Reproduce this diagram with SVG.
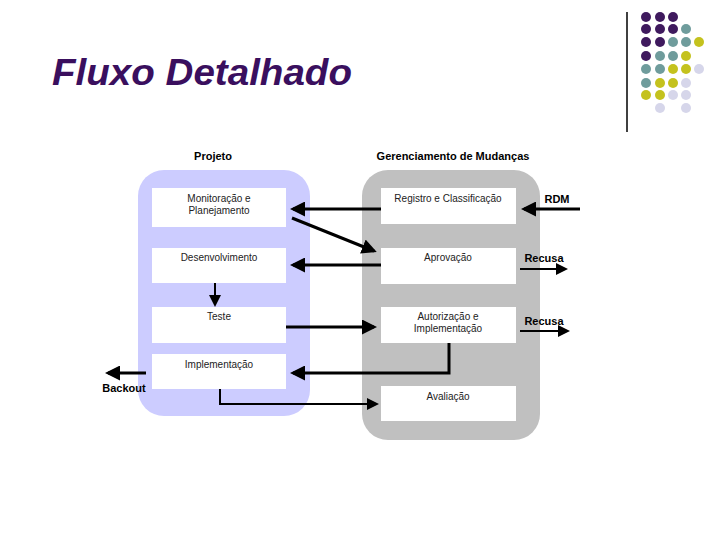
<svg xmlns="http://www.w3.org/2000/svg" width="720" height="540" viewBox="0 0 720 540">
<style>
.b{fill:#fff}
.t{font-family:"Liberation Sans",Arial,sans-serif;font-size:10px;fill:#222;text-anchor:middle}
.h{font-family:"Liberation Sans",Arial,sans-serif;font-size:11px;font-weight:bold;fill:#000;text-anchor:middle}
.c{fill:none;stroke:#000;stroke-width:3}
.c2{fill:none;stroke:#000;stroke-width:2}
.P{fill:#3f1a5e}.T{fill:#6f9c9c}.Y{fill:#c4c21e}.L{fill:#d6d6ea}
</style>
<defs>
<marker id="a" markerWidth="6" markerHeight="6" refX="5" refY="3" orient="auto" markerUnits="strokeWidth"><path d="M0,0 L6,3 L0,6 z" fill="#000"/></marker>
<marker id="s" markerWidth="5" markerHeight="5" refX="4" refY="2.5" orient="auto" markerUnits="strokeWidth"><path d="M0,0 L5,2.5 L0,5 z" fill="#000"/></marker>
</defs>
<rect width="720" height="540" fill="#fff"/>
<text x="52" y="85" font-family="Liberation Sans,Arial,sans-serif" font-size="36" font-style="italic" font-weight="bold" fill="#3a0f5e" textLength="300" lengthAdjust="spacingAndGlyphs">Fluxo Detalhado</text>
<line x1="627" y1="12" x2="627" y2="132" stroke="#000" stroke-width="1.5"/>
<g id="dots">
<circle class="P" cx="646" cy="17" r="5"/><circle class="P" cx="660" cy="17" r="5"/><circle class="P" cx="673" cy="17" r="5"/>
<circle class="P" cx="646" cy="29" r="5"/><circle class="P" cx="660" cy="29" r="5"/><circle class="P" cx="673" cy="29" r="5"/><circle class="T" cx="686" cy="29" r="5"/>
<circle class="P" cx="646" cy="42" r="5"/><circle class="P" cx="660" cy="42" r="5"/><circle class="T" cx="673" cy="42" r="5"/><circle class="T" cx="686" cy="42" r="5"/><circle class="Y" cx="699" cy="42" r="5"/>
<circle class="P" cx="646" cy="56" r="5"/><circle class="T" cx="660" cy="56" r="5"/><circle class="T" cx="673" cy="56" r="5"/><circle class="Y" cx="686" cy="56" r="5"/>
<circle class="T" cx="646" cy="69" r="5"/><circle class="T" cx="660" cy="69" r="5"/><circle class="Y" cx="673" cy="69" r="5"/><circle class="Y" cx="686" cy="69" r="5"/><circle class="L" cx="699" cy="69" r="5"/>
<circle class="T" cx="646" cy="83" r="5"/><circle class="Y" cx="660" cy="83" r="5"/><circle class="Y" cx="673" cy="83" r="5"/><circle class="L" cx="686" cy="83" r="5"/>
<circle class="Y" cx="646" cy="95" r="5"/><circle class="Y" cx="660" cy="95" r="5"/><circle class="L" cx="673" cy="95" r="5"/><circle class="L" cx="686" cy="95" r="5"/>
<circle class="L" cx="660" cy="108" r="5"/><circle class="L" cx="686" cy="108" r="5"/>
</g>
<g id="lanes">
<rect x="138" y="170" width="172" height="246" rx="26" fill="#ccccff"/>
<rect x="362" y="170" width="178" height="270" rx="26" fill="#c0c0c0"/>
<text class="h" x="213" y="160">Projeto</text>
<text class="h" x="453" y="160">Gerenciamento de Mudanças</text>
</g>
<g id="n1"><rect class="b" x="152" y="188" width="134" height="39"/><text class="t" x="219" y="202">Monitoração e</text><text class="t" x="219" y="214">Planejamento</text></g>
<g id="n2"><rect class="b" x="152" y="248" width="134" height="35"/><text class="t" x="219" y="261">Desenvolvimento</text></g>
<g id="n3"><rect class="b" x="152" y="307" width="134" height="36"/><text class="t" x="219" y="320">Teste</text></g>
<g id="n4"><rect class="b" x="152" y="354" width="134" height="35"/><text class="t" x="219" y="368">Implementação</text></g>
<g id="n5"><rect class="b" x="381" y="188" width="135" height="36"/><text class="t" x="448" y="202">Registro e Classificação</text></g>
<g id="n6"><rect class="b" x="381" y="248" width="135" height="36"/><text class="t" x="448" y="261">Aprovação</text></g>
<g id="n7"><rect class="b" x="381" y="307" width="135" height="36"/><text class="t" x="448" y="320">Autorização e</text><text class="t" x="448" y="332">Implementação</text></g>
<g id="n8"><rect class="b" x="381" y="386" width="135" height="35"/><text class="t" x="448" y="400">Avaliação</text></g>
<g id="connectors">
<path class="c" d="M381 209 L293 209" marker-end="url(#s)"/>
<path class="c" d="M292 218 L374 251" marker-end="url(#s)"/>
<path class="c" d="M381 265 L293 265" marker-end="url(#s)"/>
<path class="c2" d="M215 283 L215 305" marker-end="url(#a)"/>
<path class="c" d="M286 327 L374 327" marker-end="url(#s)"/>
<path class="c" d="M449 343 L449 373 L293 373" marker-end="url(#s)"/>
<path class="c2" d="M220 389 L220 404 L377 404" marker-end="url(#a)"/>
<path class="c" d="M580 209 L524 209" marker-end="url(#s)"/>
<path class="c2" d="M520 269 L566 269" marker-end="url(#a)"/>
<path class="c2" d="M520 331 L568 331" marker-end="url(#a)"/>
<path class="c" d="M146 373 L108 373" marker-end="url(#s)"/>
<text class="h" x="557" y="203" font-size="10">RDM</text>
<text class="h" x="544" y="262" font-size="9">Recusa</text>
<text class="h" x="544" y="325" font-size="9">Recusa</text>
<text class="h" x="124" y="392" font-size="9">Backout</text>
</g>
</svg>
